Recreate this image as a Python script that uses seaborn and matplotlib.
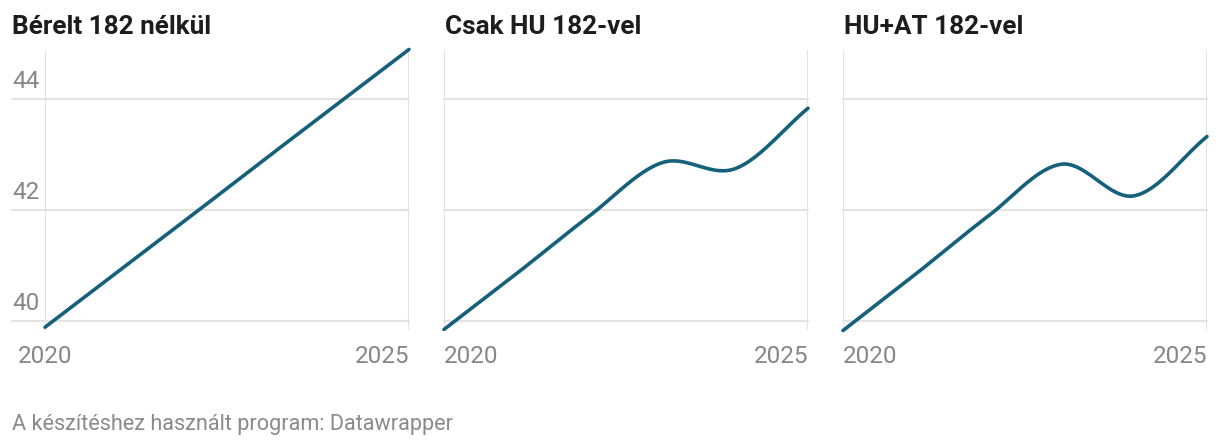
#Import packages
import numpy as np
import pandas as pd
import matplotlib.pyplot as plt
import matplotlib.transforms as mtransforms
import seaborn as sns

#Data
years = [2020, 2021, 2022, 2023, 2024, 2025]
berelt = [39.88, 40.88, 41.88, 42.89, 43.89, 44.89]
csak_hu = [39.84, 40.85, 41.89, 42.85, 42.74, 43.83]
hu_at = [39.82, 40.84, 41.89, 42.82, 42.25, 43.32]
titles = ["Bérelt 182 nélkül", "Csak HU 182-vel", "HU+AT 182-vel"]
y_ticks = [40, 42, 44]
x_ticks = [2020, 2025]
footer = "A készítéshez használt program: Datawrapper"

#Style
sns.set_theme(style="white")
plt.rcParams["font.family"] = ["Roboto", "DejaVu Sans"]

line_colour = "#15607a"
grid_colour = "#e3e3e3"
tick_colour = "#878787"


#Smooth the line like Datawrapper does (cardinal spline through the points)
def smooth(x, y, n=40):
    x = np.asarray(x, float)
    y = np.asarray(y, float)
    m = np.zeros_like(y)
    m[1:-1] = (y[2:] - y[:-2]) / 2
    m[0] = y[1] - y[0]
    m[-1] = y[-1] - y[-2]
    xs, ys = [], []
    for i in range(len(x) - 1):
        t = np.linspace(0, 1, n, endpoint=(i == len(x) - 2))
        h00 = 2 * t**3 - 3 * t**2 + 1
        h10 = t**3 - 2 * t**2 + t
        h01 = -2 * t**3 + 3 * t**2
        h11 = t**3 - t**2
        xs.append(x[i] + t * (x[i + 1] - x[i]))
        ys.append(h00 * y[i] + h10 * m[i] + h01 * y[i + 1] + h11 * m[i + 1])
    return pd.DataFrame({"year": np.concatenate(xs), "value": np.concatenate(ys)})


fig = plt.figure(figsize=(12.2, 4.46), dpi=100)
W, H = 1220, 446

lefts = [45, 444, 843]
width = 364
top, bottom = 50, 330

for i, (series, title) in enumerate(zip([berelt, csak_hu, hu_at], titles)):
    ax = fig.add_axes([lefts[i] / W, 1 - bottom / H, width / W, (bottom - top) / H])
    ax.set_xlim(2020, 2025)
    ax.set_ylim(39.83, 44.88)

    #Gridlines
    xmin = -33 / width if i == 0 else 0
    for v in y_ticks:
        ax.axhline(v, xmin=xmin, xmax=1, color=grid_colour, lw=1.5, clip_on=False, zorder=1)
    for v in x_ticks:
        ax.axvline(v, color=grid_colour, lw=1.5, zorder=1)

    #Line
    df = smooth(years, series)
    sns.lineplot(data=df, x="year", y="value", ax=ax, color=line_colour,
                 lw=2.6, clip_on=False, zorder=3, sort=False)

    for s in ax.spines.values():
        s.set_visible(False)
    ax.set_xlabel("")
    ax.set_ylabel("")

    #X ticks
    ax.set_xticks(x_ticks, [str(x) for x in x_ticks])
    ax.tick_params(axis="x", length=0, pad=11, labelsize=17.5, labelcolor=tick_colour)
    labs = ax.get_xticklabels()
    labs[0].set_ha("center" if i == 0 else "left")
    labs[1].set_ha("right")

    #Y ticks (only on the first panel, sitting above the gridline)
    if i == 0:
        ax.set_yticks(y_ticks, [str(v) for v in y_ticks])
        ax.tick_params(axis="y", length=0, pad=23.8, labelsize=17.5, labelcolor=tick_colour)
        offset = mtransforms.ScaledTranslation(0, 7.5 / 72, fig.dpi_scale_trans)
        for lab in ax.get_yticklabels():
            lab.set_ha("left")
            lab.set_va("baseline")
            lab.set_transform(lab.get_transform() + offset)
    else:
        ax.set_yticks(y_ticks, [])
        ax.tick_params(axis="y", length=0)

    #Panel title
    tx = 12 if i == 0 else lefts[i] + 1
    fig.text(tx / W, 1 - 34 / H, title, fontsize=18.8, fontweight="bold",
             color="#1d1d1d", va="baseline", ha="left")

#Footer
fig.text(12 / W, 1 - 430 / H, footer, fontsize=15.6, color="#8a8a8a",
         va="baseline", ha="left")

fig.savefig("out.png", dpi=100)
